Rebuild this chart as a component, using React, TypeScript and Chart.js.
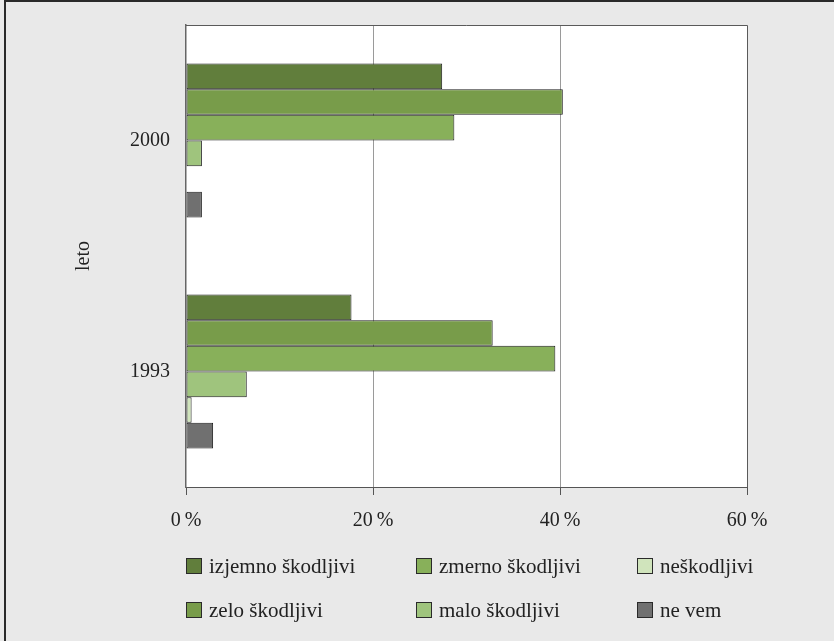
import React, { useEffect, useRef } from 'react';
import { Chart, registerables } from 'chart.js';

Chart.register(...registerables);

const years = ['2000', '1993'];
const seriesNames = [
  'izjemno škodljivi',
  'zelo škodljivi',
  'zmerno škodljivi',
  'malo škodljivi',
  'neškodljivi',
  'ne vem',
];
const izjemno = [27.4, 17.7];
const zelo = [40.3, 32.8];
const zmerno = [28.7, 39.5];
const malo = [1.7, 6.5];
const neskodljivi = [0, 0.6];
const neVem = [1.7, 2.9];
const xTicks = [0, 20, 40, 60];
const axisTitle = 'leto';
const seriesColors = ['#617e3c', '#789c4a', '#88b05a', '#9fc47d', '#d0e4bc', '#707070'];

const FONT = '"Liberation Serif", "DejaVu Serif", serif';

const backgroundPlugin = {
  id: 'bgPlugin',
  beforeDraw(chart: any) {
    const { ctx, width, height, chartArea } = chart;
    ctx.save();
    ctx.fillStyle = '#e9e9e9';
    ctx.fillRect(0, 0, width, height);
    ctx.fillStyle = '#ffffff';
    ctx.fillRect(chartArea.left, chartArea.top, chartArea.right - chartArea.left, chartArea.bottom - chartArea.top);
    ctx.restore();
  },
  afterDraw(chart: any) {
    const { ctx, width, height, chartArea } = chart;
    ctx.save();
    // plot frame (top and right)
    ctx.strokeStyle = '#5a5a5a';
    ctx.lineWidth = 1;
    ctx.beginPath();
    ctx.moveTo(chartArea.left, chartArea.top + 0.5);
    ctx.lineTo(chartArea.right + 0.5, chartArea.top + 0.5);
    ctx.lineTo(chartArea.right + 0.5, chartArea.bottom);
    ctx.stroke();
    // outer frame (top and left)
    ctx.strokeStyle = '#2a2a2a';
    ctx.lineWidth = 2;
    ctx.beginPath();
    ctx.moveTo(5, height);
    ctx.lineTo(5, 1);
    ctx.lineTo(width, 1);
    ctx.stroke();
    // legend: 3 columns x 2 rows, column-major
    const colX = [186, 416, 637];
    const rowY = [566, 610];
    const box = 16;
    ctx.font = `21px ${FONT}`;
    ctx.textBaseline = 'middle';
    ctx.textAlign = 'left';
    chart.data.datasets.forEach((ds: any, i: number) => {
      const col = Math.floor(i / 2);
      const row = i % 2;
      const x = colX[col];
      const y = rowY[row];
      ctx.fillStyle = ds.backgroundColor;
      ctx.fillRect(x, y - box / 2, box, box);
      ctx.strokeStyle = '#2a2a2a';
      ctx.lineWidth = 1;
      ctx.strokeRect(x + 0.5, y - box / 2 + 0.5, box - 1, box - 1);
      ctx.fillStyle = '#222222';
      ctx.fillText(ds.label, x + box + 7, y + 1);
    });
    ctx.restore();
  },
};

export default function App() {
  const canvasRef = useRef<HTMLCanvasElement | null>(null);

  useEffect(() => {
    document.body.style.margin = '0';
    const canvas = canvasRef.current;
    if (!canvas) return;
    const seriesValues = [izjemno, zelo, zmerno, malo, neskodljivi, neVem];
    const chart = new Chart(canvas, {
      type: 'bar',
      data: {
        labels: years,
        datasets: seriesNames.map((name, i) => ({
          label: name,
          data: seriesValues[i],
          backgroundColor: seriesColors[i],
          borderColor: '#1e1e1e',
          borderWidth: 1,
          borderSkipped: false,
          categoryPercentage: 0.667,
          barPercentage: 1,
        })),
      },
      options: {
        indexAxis: 'y',
        responsive: false,
        animation: false,
        devicePixelRatio: 1,
        layout: { padding: { top: 25, right: 87, left: 0, bottom: 0 } },
        plugins: {
          legend: { display: false },
          tooltip: { enabled: false },
        },
        scales: {
          x: {
            type: 'linear',
            min: 0,
            max: 60,
            afterBuildTicks(scale: any) {
              scale.ticks = xTicks.map((v) => ({ value: v }));
            },
            afterFit(scale: any) {
              scale.height = 154;
            },
            grid: {
              color: (c: any) => (c.tick && (c.tick.value === 20 || c.tick.value === 40) ? '#9a9a9a' : 'rgba(0,0,0,0)'),
              tickColor: '#555555',
              tickLength: 8,
              drawTicks: true,
            },
            border: { display: true, color: '#555555', width: 1 },
            ticks: {
              padding: 14,
              color: '#222222',
              font: { family: FONT, size: 20 },
              callback: (v: any) => `${v}\u2009%`,
            },
          },
          y: {
            type: 'category',
            afterFit(scale: any) {
              scale.width = 186;
              scale.paddingTop = 0;
              scale.paddingBottom = 0;
            },
            grid: { display: false, drawTicks: false },
            border: { display: true, color: '#666666', width: 1.5 },
            ticks: {
              padding: 16,
              color: '#222222',
              font: { family: FONT, size: 20 },
            },
            title: {
              display: true,
              text: axisTitle,
              color: '#222222',
              font: { family: FONT, size: 20 },
              padding: { top: 72, bottom: 0 },
            },
          },
        },
      },
      plugins: [backgroundPlugin],
    });
    return () => chart.destroy();
  }, []);

  return (
    <div style={{ width: 834, height: 641 }}>
      <canvas ref={canvasRef} width={834} height={641} />
    </div>
  );
}
